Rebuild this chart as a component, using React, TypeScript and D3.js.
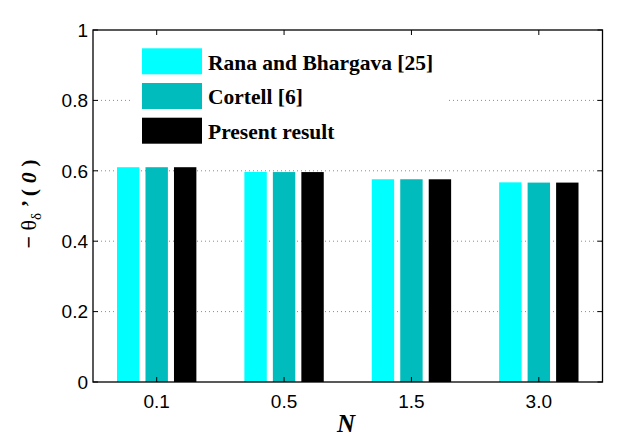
import React, { useEffect, useRef } from 'react';
import * as d3 from 'd3';

const categories = ["0.1", "0.5", "1.5", "3.0"];
const seriesNames = ["Rana and Bhargava [25]", "Cortell [6]", "Present result"];
const rana = [0.6102, 0.5966, 0.5760, 0.5672];
const cortell = [0.6102, 0.5964, 0.5760, 0.5665];
const present = [0.6102, 0.5964, 0.5759, 0.5665];
const yTicks = [0, 0.2, 0.4, 0.6, 0.8, 1];
const gridTicks = [0.2, 0.4, 0.6, 0.8];
const colors = ["#00ffff", "#00bcbc", "#000000"];

const App: React.FC = () => {
  const ref = useRef<SVGSVGElement | null>(null);

  useEffect(() => {
    if (!ref.current) return;
    const svg = d3.select(ref.current);
    svg.selectAll("*").remove();

    const left = 93, right = 602.5, top = 30, bottom = 382;
    const values = [rana, cortell, present];

    const x0 = d3.scaleBand().domain(categories).range([left, right]).padding(0);
    const groupW = x0.step() * 0.671;
    const x1 = d3.scaleBand()
      .domain(seriesNames)
      .range([-groupW / 2, groupW / 2])
      .paddingInner(0.214)
      .paddingOuter(0.107);
    const y = d3.scaleLinear().domain([0, 1]).range([bottom, top]);

    // dotted grid
    svg.append("g")
      .selectAll("line")
      .data(gridTicks)
      .join("line")
      .attr("x1", left)
      .attr("x2", right)
      .attr("y1", d => y(d))
      .attr("y2", d => y(d))
      .attr("stroke", "#8a8a8a")
      .attr("stroke-width", 1)
      .attr("stroke-dasharray", "1,3");

    // bars
    const groups = svg.append("g")
      .selectAll("g")
      .data(categories)
      .join("g")
      .attr("transform", d => `translate(${(x0(d) || 0) + x0.bandwidth() / 2},0)`);

    groups.selectAll("rect")
      .data((_, i) => seriesNames.map((s, j) => ({ s, j, v: values[j][i] })))
      .join("rect")
      .attr("x", d => x1(d.s) || 0)
      .attr("y", d => y(d.v))
      .attr("width", x1.bandwidth())
      .attr("height", d => y(0) - y(d.v))
      .attr("fill", d => colors[d.j]);

    // legend (white box, no border)
    const legend = svg.append("g");
    legend.append("rect")
      .attr("x", 130).attr("y", 38)
      .attr("width", 317).attr("height", 114)
      .attr("fill", "#fff");
    const items = legend.selectAll("g")
      .data(seriesNames)
      .join("g")
      .attr("transform", (_, i) => `translate(142,${48.3 + i * 34.7})`);
    items.append("rect")
      .attr("width", 60)
      .attr("height", 26)
      .attr("fill", (_, i) => colors[i]);
    items.append("text")
      .attr("x", 66)
      .attr("y", 21.3)
      .attr("font-family", "'Liberation Serif', serif")
      .attr("font-weight", "bold")
      .attr("font-size", 21.5)
      .attr("fill", "#000")
      .text(d => d);

    // axes box
    svg.append("rect")
      .attr("x", left).attr("y", top)
      .attr("width", right - left).attr("height", bottom - top)
      .attr("fill", "none").attr("stroke", "#000").attr("stroke-width", 1.3);

    const tickLen = 5;
    const tk = svg.append("g").attr("stroke", "#000").attr("stroke-width", 1);
    yTicks.forEach(t => {
      tk.append("line").attr("x1", left).attr("x2", left + tickLen).attr("y1", y(t)).attr("y2", y(t));
      tk.append("line").attr("x1", right).attr("x2", right - tickLen).attr("y1", y(t)).attr("y2", y(t));
    });
    categories.forEach(c => {
      const cx = (x0(c) || 0) + x0.bandwidth() / 2;
      tk.append("line").attr("x1", cx).attr("x2", cx).attr("y1", bottom).attr("y2", bottom - tickLen);
      tk.append("line").attr("x1", cx).attr("x2", cx).attr("y1", top).attr("y2", top + tickLen);
    });

    svg.append("g")
      .selectAll("text")
      .data(yTicks)
      .join("text")
      .attr("x", 88)
      .attr("y", d => y(d))
      .attr("dy", "0.36em")
      .attr("text-anchor", "end")
      .attr("font-family", "'Liberation Sans', Arial, sans-serif")
      .attr("font-size", 19)
      .text(d => d3.format("")(d));

    svg.append("g")
      .selectAll("text")
      .data(categories)
      .join("text")
      .attr("x", d => (x0(d) || 0) + x0.bandwidth() / 2)
      .attr("y", 407.5)
      .attr("text-anchor", "middle")
      .attr("font-family", "'Liberation Sans', Arial, sans-serif")
      .attr("font-size", 19)
      .text(d => d);

    svg.append("text")
      .attr("x", 346)
      .attr("y", 431.5)
      .attr("text-anchor", "middle")
      .attr("font-family", "'Liberation Serif', serif")
      .attr("font-weight", "bold")
      .attr("font-style", "italic")
      .attr("font-size", 25)
      .text("N");

    const yl = svg.append("text")
      .attr("transform", "translate(36,204) rotate(-90)")
      .attr("text-anchor", "middle")
      .attr("font-family", "'Liberation Serif', serif")
      .attr("font-size", 22)
      .attr("fill", "#000");
    yl.append("tspan").attr("font-weight", "bold").text("\u2212 ");
    yl.append("tspan").text("\u03b8");
    yl.append("tspan").attr("dy", 5).attr("font-size", 15).text("\u03b4");
    yl.append("tspan").attr("dy", -5).attr("font-weight", "bold").text(" \u2019 ( ");
    yl.append("tspan").attr("font-weight", "bold").attr("font-style", "italic").text("0");
    yl.append("tspan").attr("font-weight", "bold").text(" )");
  }, []);

  return (
    <svg
      ref={ref}
      width={640}
      height={445}
      style={{ position: "absolute", left: 0, top: 0, background: "#fff" }}
    />
  );
};

export default App;
